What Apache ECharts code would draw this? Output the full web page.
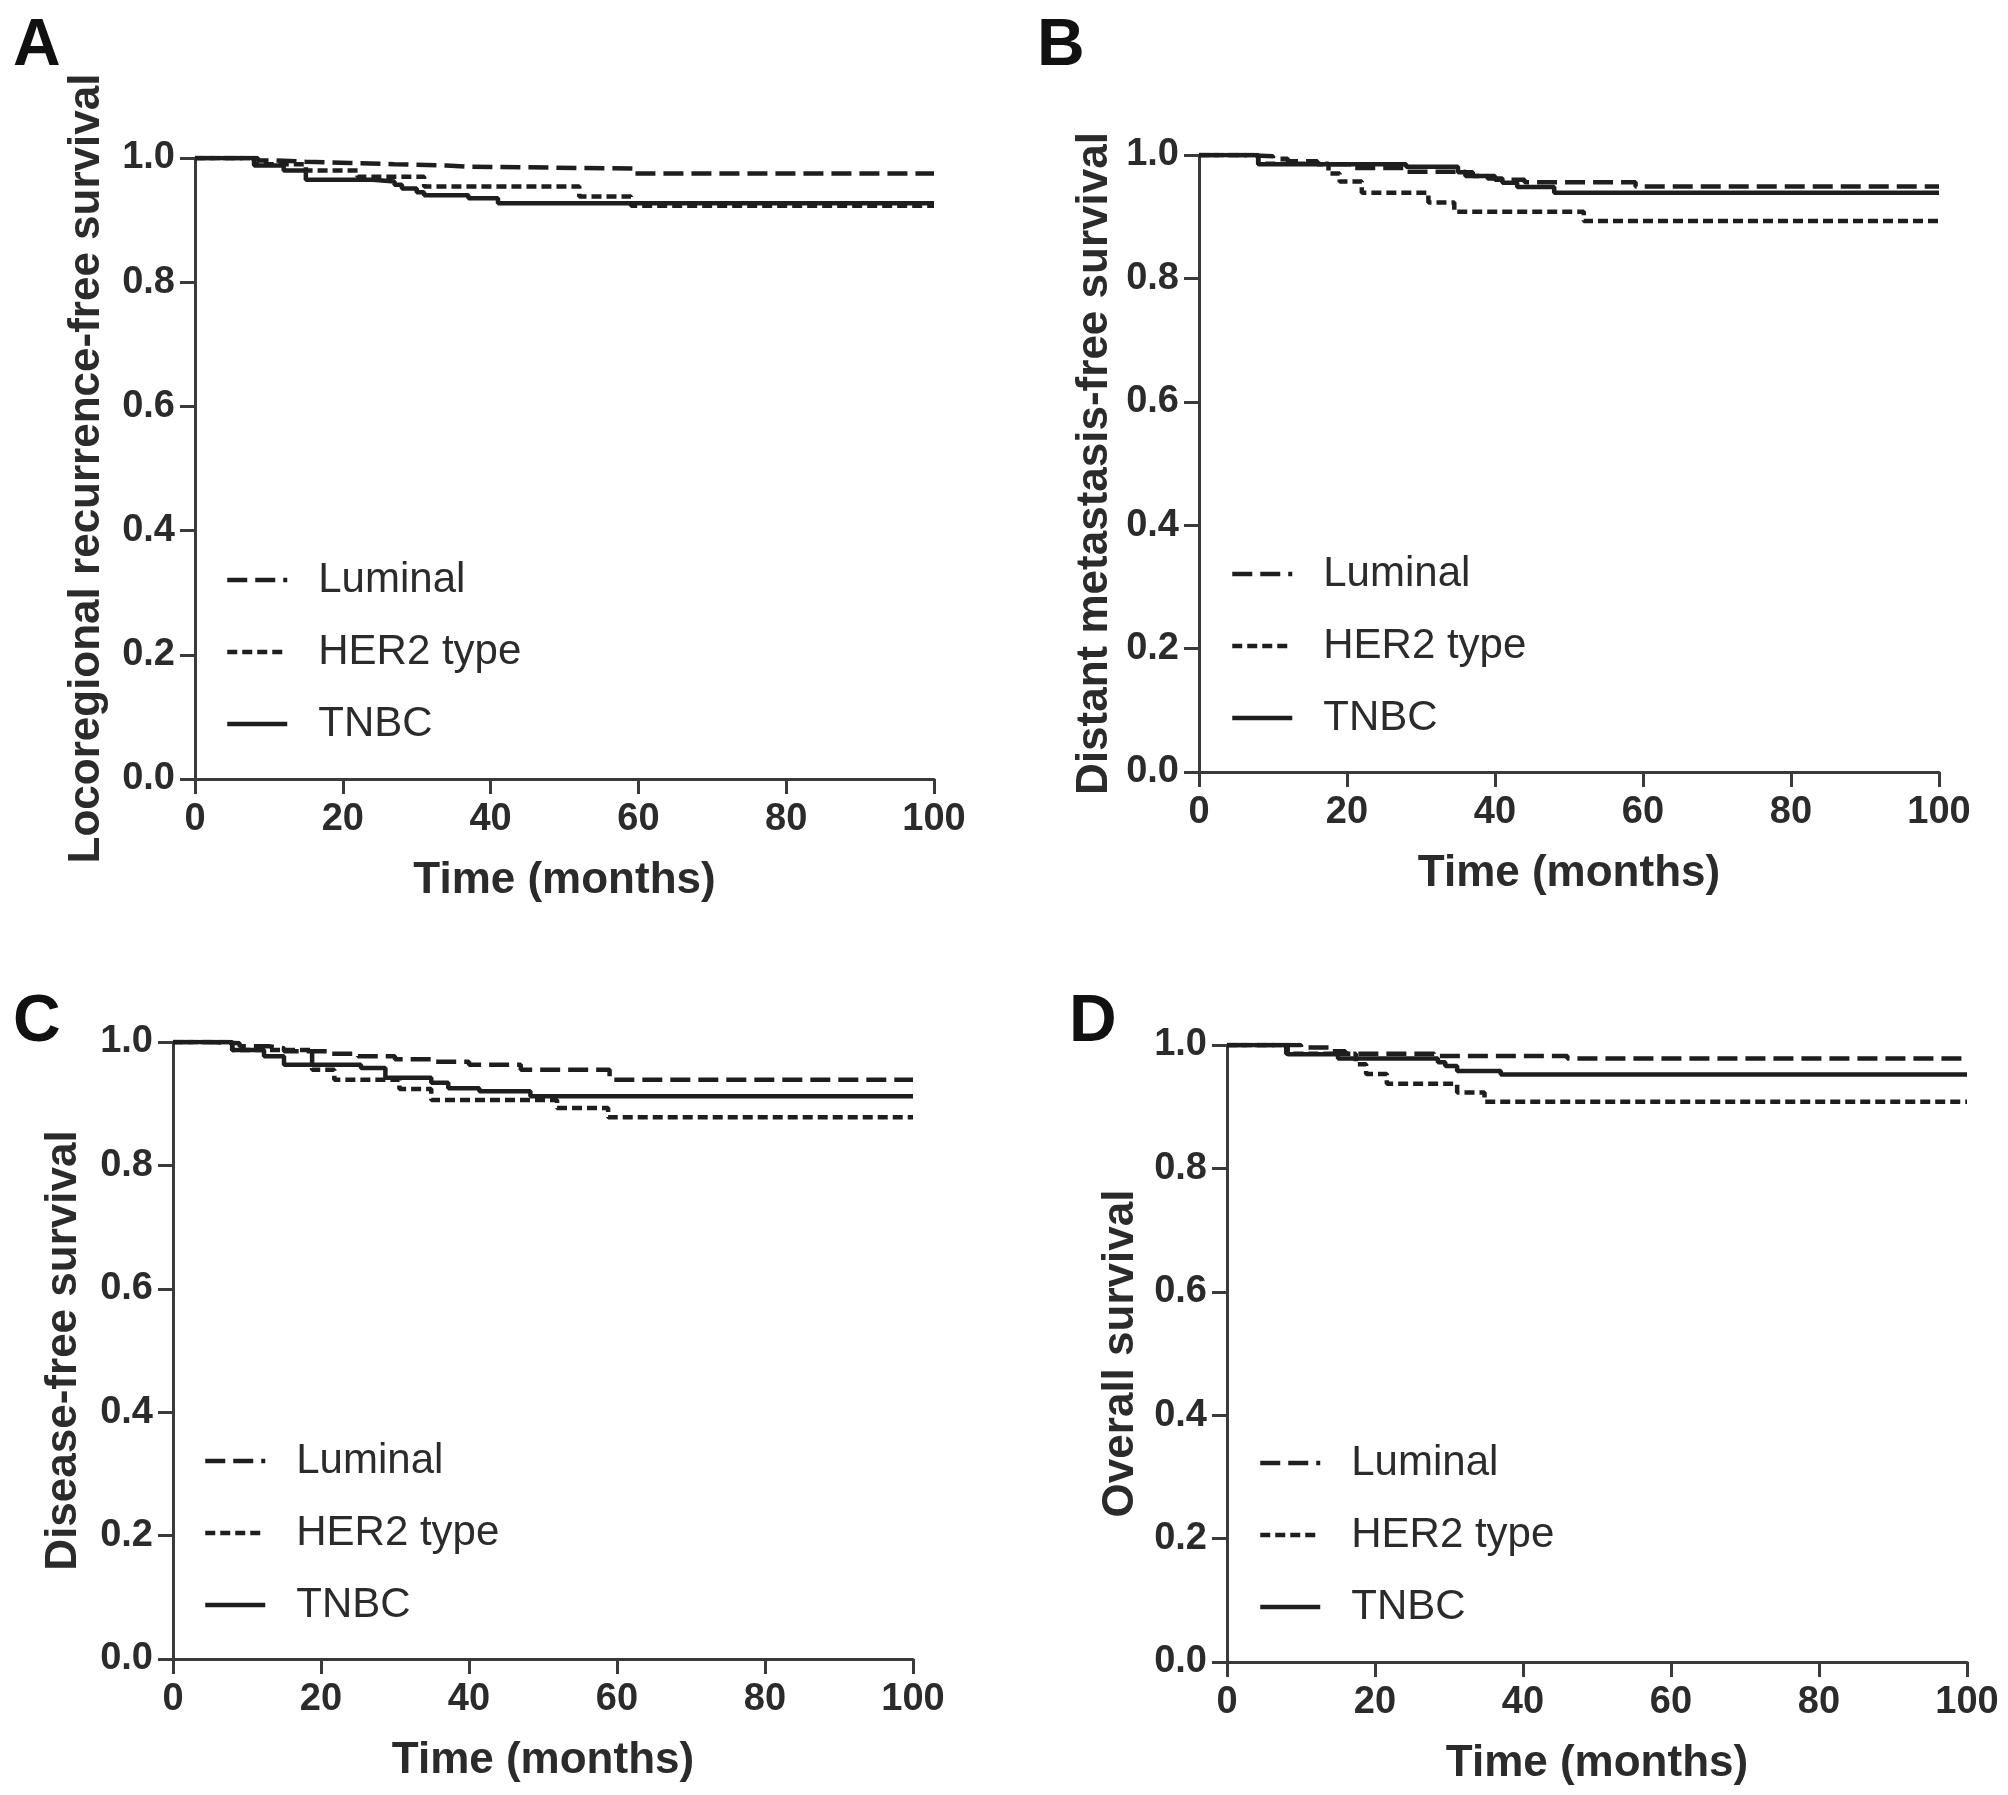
<!DOCTYPE html>
<html>
<head>
<meta charset="utf-8">
<script src="https://cdn.jsdelivr.net/npm/echarts@6/dist/echarts.min.js"></script>
<style>
  body { margin: 0; background: #fff; }
  #chart { width: 2008px; height: 1795px; }
</style>
</head>
<body>
<div id="chart"></div>
<script>
// Kaplan-Meier curves: [months, survival]
const groups = ["Luminal", "HER2 type", "TNBC"];
const xTicks = [0, 20, 40, 60, 80, 100];
const yTicks = [0.0, 0.2, 0.4, 0.6, 0.8, 1.0];

// A: locoregional recurrence-free survival
const aLuminal = [[0, 1], [8.5, 0.996], [11, 0.994], [15, 0.992], [21, 0.99], [27, 0.988], [34, 0.986], [37, 0.983], [59.5, 0.975], [100, 0.975]];
const aHer2 = [[0, 1], [8, 0.99], [15, 0.98], [22, 0.97], [31, 0.954], [52, 0.938], [59, 0.923], [100, 0.923]];
const aTnbc = [[0, 1], [8, 0.988], [12, 0.98], [15, 0.965], [24, 0.962], [27, 0.957], [28, 0.951], [30, 0.945], [31, 0.94], [37, 0.935], [41, 0.927], [100, 0.927]];

// B: distant metastasis-free survival
const bLuminal = [[0, 1], [6, 0.998], [10, 0.994], [12, 0.99], [16, 0.985], [21, 0.979], [28, 0.973], [36, 0.966], [40, 0.96], [44, 0.956], [59, 0.949], [100, 0.949]];
const bHer2 = [[0, 1], [8, 0.986], [17.5, 0.97], [19, 0.957], [22, 0.939], [31, 0.923], [34.5, 0.908], [52, 0.893], [100, 0.893]];
const bTnbc = [[0, 1], [8, 0.985], [28, 0.981], [35, 0.972], [37, 0.966], [39, 0.962], [41, 0.955], [43, 0.948], [48, 0.939], [100, 0.939]];

// C: disease-free survival
const cLuminal = [[0, 1], [5, 0.998], [9, 0.993], [13, 0.99], [15, 0.985], [21, 0.981], [25, 0.977], [30, 0.972], [35, 0.968], [40, 0.963], [47, 0.955], [59, 0.939], [100, 0.939]];
const cHer2 = [[0, 1], [8, 0.987], [18.8, 0.955], [21.8, 0.939], [30.6, 0.924], [34.9, 0.906], [51.9, 0.893], [58.8, 0.878], [100, 0.878]];
const cTnbc = [[0, 1], [8, 0.987], [12.3, 0.977], [15, 0.963], [25.4, 0.958], [28.7, 0.942], [34.9, 0.934], [37.2, 0.925], [41.4, 0.92], [48.3, 0.912], [100, 0.912]];

// D: overall survival
const dLuminal = [[0, 1], [10, 0.996], [14, 0.99], [16, 0.986], [28, 0.982], [46, 0.978], [100, 0.978]];
const dHer2 = [[0, 1], [8, 0.986], [17.4, 0.969], [18.8, 0.953], [21.6, 0.937], [31.1, 0.923], [34.8, 0.908], [100, 0.908]];
const dTnbc = [[0, 1], [8.2, 0.985], [15, 0.978], [28.5, 0.972], [29.5, 0.966], [31.1, 0.958], [37, 0.952], [100, 0.952]];

const panels = [
  { letter: "A", yName: "Locoregional recurrence-free survival", data: [aLuminal, aHer2, aTnbc],
    left: 195, top: 158, width: 739, height: 621, letterPos: [13, 14], legendPos: [225, 559], yGap: 86 },
  { letter: "B", yName: "Distant metastasis-free survival", data: [bLuminal, bHer2, bTnbc],
    left: 1199, top: 155, width: 740, height: 617, letterPos: [1037, 14], legendPos: [1230, 553], yGap: 82 },
  { letter: "C", yName: "Disease-free survival", data: [cLuminal, cHer2, cTnbc],
    left: 173, top: 1042, width: 740, height: 617, letterPos: [13, 990], legendPos: [203, 1440], yGap: 87 },
  { letter: "D", yName: "Overall survival", data: [dLuminal, dHer2, dTnbc],
    left: 1227, top: 1045, width: 740, height: 617, letterPos: [1069, 990], legendPos: [1258, 1442], yGap: 84 }
];

const ink = "#2b2b2b";
const axisInk = "#3a3a3a";
const fontFam = "'Liberation Sans', Arial, sans-serif";
const lineStyles = [
  { type: [20, 8], width: 4.5 },
  { type: [10, 5], width: 4.5 },
  { type: "solid", width: 4.5 }
];

const chart = echarts.init(document.getElementById("chart"), null, { renderer: "canvas" });

const option = {
  animation: false,
  backgroundColor: "#fff",
  title: [],
  grid: [],
  xAxis: [],
  yAxis: [],
  legend: [],
  series: []
};

panels.forEach((p, i) => {
  option.title.push({
    text: p.letter,
    left: p.letterPos[0],
    top: p.letterPos[1],
    padding: 0,
    textStyle: { fontFamily: fontFam, fontSize: 66, fontWeight: "bold", color: "#111" }
  });
  option.grid.push({ left: p.left, top: p.top, width: p.width, height: p.height, containLabel: false });
  option.xAxis.push({
    gridIndex: i,
    type: "value",
    min: 0,
    max: 100,
    interval: 20,
    name: "Time (months)",
    nameLocation: "middle",
    nameGap: 80,
    nameTextStyle: { fontFamily: fontFam, fontSize: 44, fontWeight: "bold", color: ink },
    axisLine: { lineStyle: { color: axisInk, width: 3 } },
    axisTick: { length: 15, lineStyle: { color: axisInk, width: 3 } },
    axisLabel: {
      margin: 22,
      fontFamily: fontFam, fontSize: 38, fontWeight: "bold", color: ink,
      formatter: (v) => (xTicks.includes(v) ? String(v) : "")
    },
    splitLine: { show: false }
  });
  option.yAxis.push({
    gridIndex: i,
    type: "value",
    min: 0,
    max: 1,
    interval: 0.2,
    name: p.yName,
    nameLocation: "middle",
    nameGap: p.yGap,
    nameTextStyle: { fontFamily: fontFam, fontSize: 44, fontWeight: "bold", color: ink },
    axisLine: { show: true, lineStyle: { color: axisInk, width: 3 } },
    axisTick: { show: true, length: 15, lineStyle: { color: axisInk, width: 3 } },
    axisLabel: {
      margin: 20,
      fontFamily: fontFam, fontSize: 38, fontWeight: "bold", color: ink,
      formatter: (v) => yTicks.find((t) => Math.abs(t - v) < 1e-6).toFixed(1)
    },
    splitLine: { show: false }
  });
  option.legend.push({
    orient: "vertical",
    left: p.legendPos[0],
    top: p.legendPos[1],
    padding: 0,
    itemWidth: 60,
    itemHeight: 42,
    itemGap: 30,
    selectedMode: false,
    // hide the marker the line icon would draw, keep the line sample
    itemStyle: { opacity: 0 },
    lineStyle: { width: 4.5 },
    data: groups.map((g) => ({ name: g })),
    textStyle: { fontFamily: fontFam, fontSize: 42, color: ink, padding: [0, 0, 0, 26] }
  });
  groups.forEach((g, s) => {
    option.series.push({
      name: g,
      type: "line",
      xAxisIndex: i,
      yAxisIndex: i,
      step: "end",
      symbol: "none",
      data: p.data[s],
      color: "#1e1e1e",
      lineStyle: { color: "#1e1e1e", width: lineStyles[s].width, type: lineStyles[s].type }
    });
  });
});

chart.setOption(option);
window.addEventListener("resize", chart.resize);
</script>
</body>
</html>
